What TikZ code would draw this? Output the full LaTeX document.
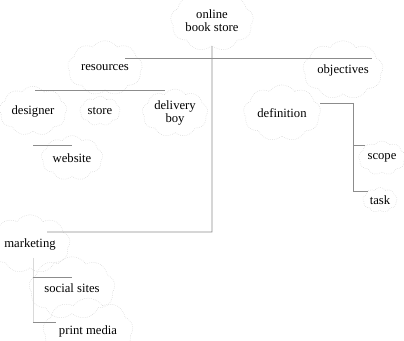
\documentclass[tikz,border=0pt]{standalone}
\usepackage{fontspec}
\setmainfont{Liberation Serif}
\usetikzlibrary{shapes.symbols}

\tikzset{
  topic/.style={cloud, cloud puffs=9, cloud puff arc=110, aspect=1.6,
    draw=black!18, densely dotted, inner sep=1pt, align=center,
    font=\fontsize{9.5}{10}\selectfont, text=black},
  link/.style={draw=black!45, line width=0.6pt}
}

\begin{document}
\begin{tikzpicture}[x=0.75pt, y=-0.75pt]
    \useasboundingbox (0,0) rectangle (404,341);

    \node[topic] (store)    at (212,21)  {online\\book store};
    \node[topic] (res)      at (105,68)  {resources};
    \node[topic] (obj)      at (343,70)  {objectives};
    \node[topic] (designer) at (33,111)  {designer};
    \node[topic] (shop)     at (100,111) {store};
    \node[topic] (delivery) at (175,113) {delivery\\boy};
    \node[topic] (website)  at (72,158)  {website};
    \node[topic] (defn)     at (282,113) {definition};
    \node[topic] (scope)    at (382,158) {scope};
    \node[topic] (task)     at (380,200) {task};
    \node[topic] (mkt)      at (30,244)  {marketing};
    \node[topic] (social)   at (72,288)  {social sites};
    \node[topic] (print)    at (88,331)  {print media};

    \coordinate (hubL) at (125,58);
    \coordinate (hubR) at (372,58);
    \coordinate (resbar) at (105,90);
    \coordinate (barL) at (35,90);
    \coordinate (barR) at (165,90);
    \coordinate (webL) at (33,145);
    \coordinate (mktturn) at (212,232);
    \coordinate (mktend) at (47,232);
    \coordinate (defturn) at (353,103);
    \coordinate (mktdown) at (33,258);
    \coordinate (socL) at (33,277);
    \coordinate (prtL) at (33,322);

    \draw[link] (store) -- (mktturn) -- (mktend);
    \draw[link] (hubL) -- (hubR);

    \draw[link] (res) -- (resbar);
    \draw[link] (barL) -- (barR);
    \draw[link] (webL) -- (webL -| website.north);

    \draw[link] (defn.east |- defturn) -- (defturn) |- (task.north west);
    \draw[link] (defturn) |- (scope.north west);

    \draw[link, draw=black!15] (mktdown) -- (prtL);
    \draw[link] (socL) -- (socL -| social.north);
    \draw[link] (prtL) -- (prtL -| print.north west);
\end{tikzpicture}
\end{document}
